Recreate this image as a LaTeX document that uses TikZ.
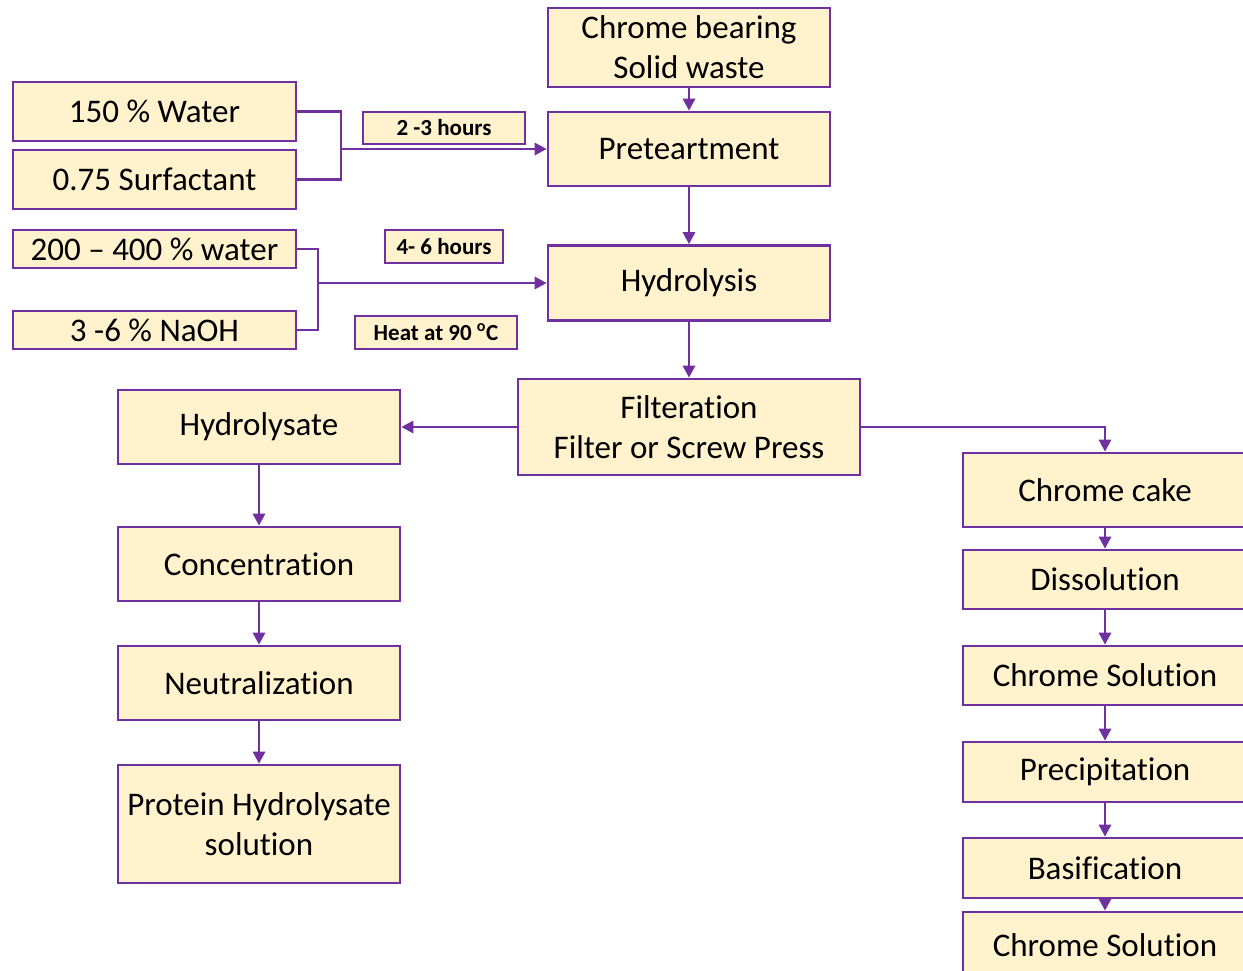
\documentclass[tikz,border=0pt]{standalone}
\usepackage{fontspec}
\setmainfont[RawFeature=-liga]{Carlito}
\usetikzlibrary{arrows.meta}
\definecolor{boxfill}{HTML}{FFF2CC}
\definecolor{boxline}{HTML}{7030A0}
\begin{document}
\begin{tikzpicture}[x=1pt,y=-1pt,
  box/.style={draw=boxline,fill=boxfill,line width=2.6pt,inner sep=0pt,align=center,font=\fontsize{33}{40}\selectfont},
  lab/.style={draw=boxline,fill=boxfill,line width=2.6pt,inner sep=0pt,align=center,font=\fontsize{23}{25}\selectfont\bfseries},
  conn/.style={draw=boxline,line width=2.8pt},
  arr/.style={conn,-{Triangle[length=12pt,width=12pt]}}]
\useasboundingbox (0,0) rectangle (1243,970);
\begin{scope}
\clip (0,0) rectangle (1243,970);
% main column
\node[box,minimum width=282pt,minimum height=79pt] (src) at (689,47.5) {Chrome bearing\\Solid waste};
\node[box,minimum width=282pt,minimum height=74pt] (pre) at (689,149) {Preteartment};
\node[box,minimum width=282pt,minimum height=75pt] (hyd) at (689,283) {Hydrolysis};
\node[box,minimum width=342pt,minimum height=96pt] (fil) at (689,427) {Filteration\\Filter or Screw Press};
% left inputs
\node[box,minimum width=283pt,minimum height=59pt] (w150) at (154.5,111.5) {150 \% Water};
\node[box,minimum width=283pt,minimum height=59pt] (surf) at (154.5,179.5) {0.75 Surfactant};
\node[box,minimum width=283pt,minimum height=38pt] (w200) at (154.5,249) {200 -- 400 \% water};
\node[box,minimum width=283pt,minimum height=38pt] (naoh) at (154.5,330) {3 -6 \% NaOH};
% labels
\node[lab,minimum width=162pt,minimum height=32pt] (t23) at (444,128) {2 -3 hours};
\node[lab,minimum width=118pt,minimum height=33pt] (t46) at (444,246.5) {4- 6 hours};
\node[lab,minimum width=162pt,minimum height=33pt] (heat) at (436,332.5) {Heat at 90 \textsuperscript{o}C};
% left column
\node[box,minimum width=282pt,minimum height=74pt] (hys) at (259,427) {Hydrolysate};
\node[box,minimum width=282pt,minimum height=74pt] (con) at (259,564) {Concentration};
\node[box,minimum width=282pt,minimum height=74pt] (neu) at (259,683) {Neutralization};
\node[box,minimum width=282pt,minimum height=118pt] (pro) at (259,824) {Protein Hydrolysate\\solution};
% right column
\node[box,minimum width=284pt,minimum height=74pt] (cake) at (1105,490) {Chrome cake};
\node[box,minimum width=284pt,minimum height=59pt] (dis) at (1105,579.5) {Dissolution};
\node[box,minimum width=284pt,minimum height=59pt] (cs1) at (1105,675.5) {Chrome Solution};
\node[box,minimum width=284pt,minimum height=60pt] (pre2) at (1105,772) {Precipitation};
\node[box,minimum width=284pt,minimum height=60pt] (bas) at (1105,868) {Basification};
\node[box,minimum width=284pt,minimum height=66pt] (cs2) at (1105,945) {Chrome Solution};
% connectors
\coordinate (j1) at (341,149);
\coordinate (j2) at (318,283);
\draw[conn] (w150.east) -| (j1) |- (surf.east);
\draw[arr] (j1) -- (pre.west);
\draw[conn] (w200.east) -| (j2) |- (naoh.east);
\draw[arr] (j2) -- (hyd.west);
\draw[arr] (src) -- (pre);
\draw[arr] (pre) -- (hyd);
\draw[arr] (hyd) -- (fil);
\draw[arr] (fil.west) -- (hys.east);
\draw[arr] (fil.east) -| (cake.north);
\draw[arr] (hys) -- (con);
\draw[arr] (con) -- (neu);
\draw[arr] (neu) -- (pro);
\draw[arr] (cake) -- (dis);
\draw[arr] (dis) -- (cs1);
\draw[arr] (cs1) -- (pre2);
\draw[arr] (pre2) -- (bas);
\draw[arr] (bas) -- (cs2);
\end{scope}
\end{tikzpicture}
\end{document}
